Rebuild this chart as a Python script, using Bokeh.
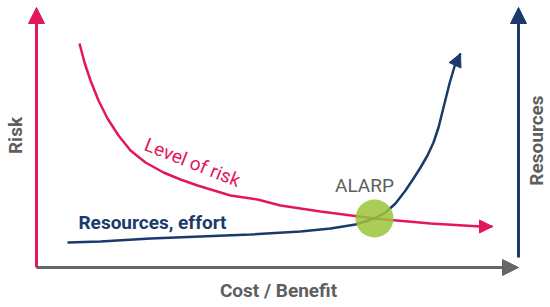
from bokeh.plotting import figure
from bokeh.models import Range1d, Arrow, NormalHead
from bokeh.core.properties import value
from bokeh.embed import file_html
from bokeh.resources import INLINE

# ---- data (cost/benefit on x, level on y; origin at the axes corner) ----
risk_x = [43, 48, 54, 62, 71, 82, 94, 109, 127, 144, 161, 194, 221, 244, 284, 338, 394, 444, 456]
risk_y = [224, 205, 187, 167, 149, 132, 117, 105, 95, 88, 82, 72, 68, 62, 56, 49, 44, 41, 41]

res_x = [31, 64, 114, 164, 214, 264, 294, 319, 338, 349, 359, 369, 377, 384, 391, 397, 402, 407, 413, 418, 424]
res_y = [25, 26, 29, 31, 33, 36, 39, 43, 49, 55, 64, 77, 89, 100, 112, 125, 140, 160, 184, 201, 214]

alarp_x = [338]
alarp_y = [49]

axis_x_end = 482
axis_y_end = 260

RED = "#e2185b"
BLUE = "#1b3a6b"
GREY = "#5e5e5e"
AXGREY = "#666666"
GREEN = "#9bc43a"
FONT = "Roboto"

p = figure(width=550, height=307, x_range=Range1d(-36, 514), y_range=Range1d(-40, 267),
           output_backend="svg", toolbar_location=None, min_border=0,
           x_axis_location=None, y_axis_location=None)
p.grid.visible = False
p.outline_line_color = None
p.background_fill_color = "white"
p.border_fill_color = "white"

# axes as arrows
p.add_layout(Arrow(x_start=0, y_start=0, x_end=axis_x_end, y_end=0, line_color=AXGREY, line_width=3,
                   end=NormalHead(size=16, fill_color=AXGREY, line_color=AXGREY)))
p.add_layout(Arrow(x_start=0, y_start=0, x_end=0, y_end=axis_y_end, line_color=RED, line_width=3,
                   end=NormalHead(size=16, fill_color=RED, line_color=RED)))
p.add_layout(Arrow(x_start=axis_x_end, y_start=10, x_end=axis_x_end, y_end=axis_y_end, line_color=BLUE, line_width=3,
                   end=NormalHead(size=16, fill_color=BLUE, line_color=BLUE)))

# curves
p.line(risk_x, risk_y, line_color=RED, line_width=2.5)
p.add_layout(Arrow(x_start=risk_x[-2], y_start=risk_y[-2], x_end=risk_x[-1], y_end=risk_y[-1],
                   line_alpha=0, end=NormalHead(size=13, fill_color=RED, line_color=RED)))
p.line(res_x, res_y, line_color=BLUE, line_width=2.5)
p.add_layout(Arrow(x_start=res_x[-2], y_start=res_y[-2], x_end=res_x[-1], y_end=res_y[-1],
                   line_alpha=0, end=NormalHead(size=13, fill_color=BLUE, line_color=BLUE)))

# ALARP point
p.scatter(alarp_x, alarp_y, size=38, fill_color=GREEN, fill_alpha=0.85, line_color=None)

# labels
def label(x, y, t, color, size, angle=0.0, style="bold"):
    p.text([x], [y], text=[t], text_color=color, text_font=value(FONT), text_font_size=size,
           text_font_style=style, text_align="center", text_baseline="middle", angle=angle)

label(-21, 132, "Risk", GREY, "19px", angle=1.5708)
label(500, 127, "Resources", GREY, "19px", angle=1.5708)
label(242, -23, "Cost / Benefit", GREY, "19px")
label(328, 82, "ALARP", GREY, "19px", style="normal")
label(156, 105, "Level of risk", RED, "19px", angle=-0.38, style="normal")
label(116, 45, "Resources, effort", BLUE, "19px")

open("out.html", "w").write(file_html(p, INLINE))
